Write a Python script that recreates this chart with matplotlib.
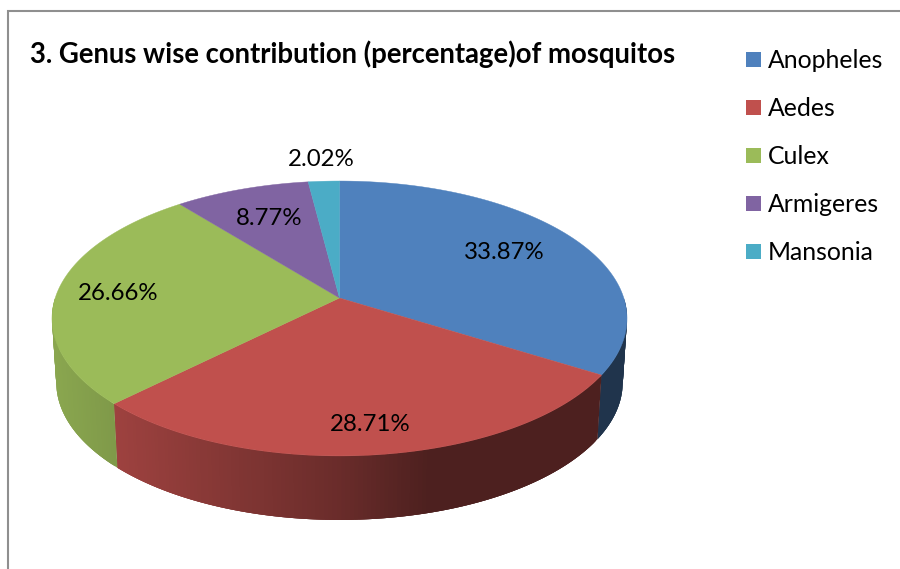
import numpy as np
import matplotlib
matplotlib.use('Agg')
import matplotlib.pyplot as plt
from matplotlib.patches import Rectangle

genus = ['Anopheles', 'Aedes', 'Culex', 'Armigeres', 'Mansonia']
percent = [33.87, 28.71, 26.66, 8.77, 2.02]
colors = ['#4f81bd', '#c0504d', '#9bbb59', '#8064a2', '#4bacc6']
title = '3. Genus wise contribution (percentage)of mosquitos'

plt.rcParams['font.family'] = ['Lato', 'DejaVu Sans']

# pie geometry, in picture pixels
cx, cy = 339.5, 298.0
rx, ry = 284.3, 134.4
persp = 0.149
depth = 64.0


def rim(angle, shrink=1.0, drop=0.0):
    """Project clockwise-from-top angles (deg) on the tilted disc."""
    t = np.radians(angle)
    w = 1 + persp * np.cos(t)
    return cx + shrink * rx * np.sin(t) / w, cy - ry * np.cos(t) / w + drop


def side_shade(x):
    # side of the pie gets darker from left to right
    return np.interp(x, [52, 115, 340, 430, 627], [0.89, 0.82, 0.55, 0.40, 0.40])


fig = plt.figure(figsize=(9.0, 5.69), dpi=100)
ax = fig.add_axes([0, 0, 1, 1])
ax.set_xlim(0, 900)
ax.set_ylim(569, 0)
ax.axis('off')

# chart frame, cut off by the picture on the right and at the bottom
ax.plot([8, 8, 900], [569, 11, 11], color='#8f8f8f', lw=1.5, solid_joinstyle='miter')

edges = np.concatenate([[0], np.cumsum(percent)]) / sum(percent) * 360

# side wall, strips overlap the next ones to avoid seams
for i, color in enumerate(colors):
    start = max(edges[i], 90)
    stop = min(edges[i + 1], 270)
    if stop <= start:
        continue
    base = np.array(matplotlib.colors.to_rgb(color))
    steps = np.append(np.arange(start, stop, 0.75), stop)
    for a0, a1 in zip(steps[:-1], steps[1:]):
        a2 = min(a1 + 1.5, stop)
        xt, yt = rim(np.array([a0, a1, a2]))
        xb, yb = rim(np.array([a2, a1, a0]), shrink=0.985, drop=depth)
        shade = base * side_shade((xt[0] + xt[1]) / 2)
        ax.fill(np.r_[xt, xb], np.r_[yt, yb], color=shade, lw=0)

# top surface
for i, color in enumerate(colors):
    angles = np.linspace(edges[i], edges[i + 1], 200)
    x, y = rim(angles)
    ax.fill(np.r_[cx, x], np.r_[cy, y], color=color, lw=0.3)

# data labels
label_x = [504.5, 370.5, 118.5, 269.5, 321.5]
label_y = [252, 424, 293, 218, 159]
for v, lx, ly in zip(percent, label_x, label_y):
    ax.text(lx, ly, '%.2f%%' % v, ha='center', va='center', fontsize=17.3,
            color='black')

ax.text(30, 54, title, ha='left', va='center', fontsize=19.8, fontweight='bold',
        color='black')

# legend
for i, (name, color) in enumerate(zip(genus, colors)):
    y = 59.5 + i * 48
    ax.add_patch(Rectangle((746, y - 7.5), 15, 15, facecolor=color, edgecolor='none'))
    ax.text(768, y + 0.5, name, ha='left', va='center', fontsize=17.8, color='black')

fig.savefig('out.png', dpi=100, facecolor='white')
